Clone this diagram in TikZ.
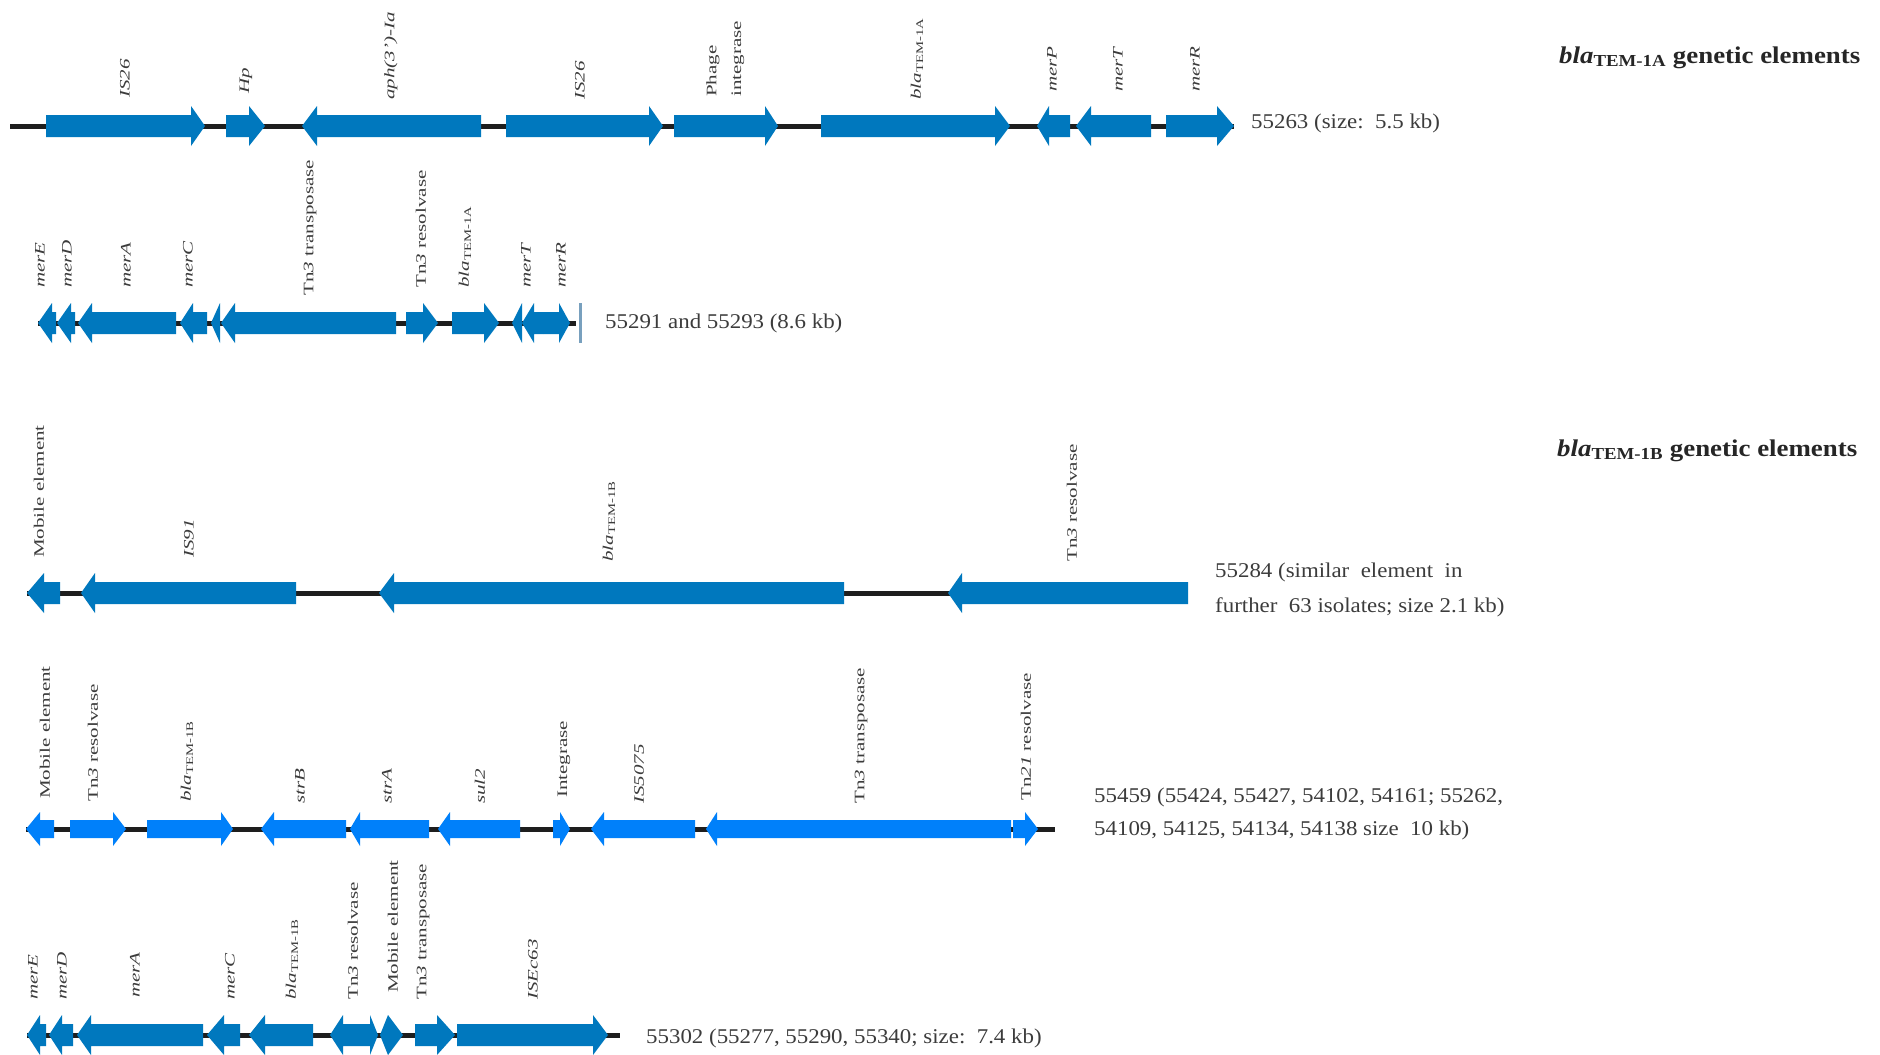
\documentclass[tikz,border=0pt]{standalone}
\usepackage{fontspec}
\setmainfont{Liberation Serif}
\usepackage{graphicx}
\definecolor{genA}{RGB}{0,120,190}
\definecolor{genB}{RGB}{0,128,250}
\definecolor{bb}{RGB}{30,30,30}
\definecolor{lab}{RGB}{60,60,60}
\definecolor{endbar}{RGB}{120,160,190}
\def\bh{11}
\def\hh{20}
\newcommand{\gene}[5][genA]{%
  \fill[#1] (#2,{#5-\bh}) -- (#3,{#5-\bh}) -- (#3,{#5-\hh}) -- (#4,#5) -- (#3,{#5+\hh}) -- (#3,{#5+\bh}) -- (#2,{#5+\bh}) -- cycle;}
\newcommand{\gl}[1]{\scalebox{1.45}[1]{#1}}
\newcommand{\hstr}[1]{\scalebox{1.09}[1]{#1}}
\newcommand{\blasub}[1]{\textit{bla}\textsubscript{#1}}
\tikzset{
  glab/.style={rotate=90, anchor=west, inner sep=0pt, font=\fontsize{14.5}{16}\selectfont, text=lab},
  htxt/.style={anchor=base west, inner sep=0pt, font=\fontsize{21}{24}\selectfont, text=lab},
  hdr/.style={anchor=base west, inner sep=0pt, font=\fontsize{24}{28}\selectfont\bfseries, text=black!85},
  backbone/.style={draw=bb, line width=5pt},
}
\begin{document}
\begin{tikzpicture}[x=1pt,y=-1pt]
\useasboundingbox[fill=white] (0,0) rectangle (1880,1055);

% ---------- headers ----------
\node[hdr] (h1) at (1559,63) {\scalebox{1.12}[1]{\blasub{TEM-1A} genetic elements}};
\node[hdr] (h2) at (1557,456) {\scalebox{1.12}[1]{\blasub{TEM-1B} genetic elements}};

% ---------- row 1 : 55263 ----------
\draw[backbone] (10,126) -- (1234,126);
\gene{46}{191}{205}{126}
\gene{226}{249}{265}{126}
\gene{481}{317}{302}{126}
\gene{506}{649}{663}{126}
\gene{674}{765}{778}{126}
\gene{821}{995}{1010}{126}
\gene{1070}{1049}{1037}{126}
\gene{1151}{1091}{1076}{126}
\gene{1166}{1217}{1234}{126}
\node[glab] (a1) at (125,98) {\gl{\textit{IS26}}};
\node[glab] (a2) at (246,94) {\gl{\textit{Hp}}};
\node[glab] (a3) at (391,100) {\gl{\textit{aph(3')-Ia}}};
\node[glab] (a4) at (580,100) {\gl{\textit{IS26}}};
\node[glab] (a5) at (713,97) {\gl{Phage}};
\node[glab] (a6) at (738,97) {\gl{integrase}};
\node[glab] (a7) at (917,100) {\gl{\blasub{TEM-1A}}};
\node[glab] (a8) at (1052,92) {\gl{\textit{merP}}};
\node[glab] (a9) at (1118,92) {\gl{\textit{merT}}};
\node[glab] (a10) at (1195,92) {\gl{\textit{merR}}};
\node[htxt] (t1) at (1251,128) {\hstr{55263 (size:\ \ 5.5 kb)}};

% ---------- row 2 : 55291 and 55293 ----------
\draw[backbone] (38,323) -- (576,323);
\draw[endbar, line width=3pt] (580,303) -- (580,343);
\gene{56}{52}{38}{323}
\gene{75}{71}{57}{323}
\gene{176}{92}{78}{323}
\gene{207}{193}{180}{323}
\gene{220}{220}{211}{323}
\gene{396}{235}{221}{323}
\gene{406}{423}{438}{323}
\gene{452}{484}{499}{323}
\gene{522}{522}{512}{323}
\gene{543}{534}{522}{323}
\gene{543}{559}{570}{323}
\node[glab] (b1) at (40,288) {\gl{\textit{merE}}};
\node[glab] (b2) at (67,288) {\gl{\textit{merD}}};
\node[glab] (b3) at (126,288) {\gl{\textit{merA}}};
\node[glab] (b4) at (188,288) {\gl{\textit{merC}}};
\node[glab] (b5) at (310,296) {\gl{Tn\textit{3} transposase}};
\node[glab] (b6) at (421,288) {\gl{Tn\textit{3} resolvase}};
\node[glab] (b7) at (465,288) {\gl{\blasub{TEM-1A}}};
\node[glab] (b8) at (526,288) {\gl{\textit{merT}}};
\node[glab] (b9) at (561,288) {\gl{\textit{merR}}};
\node[htxt] (t2) at (605,328) {\hstr{55291 and 55293 (8.6 kb)}};

% ---------- row 3 : 55284 ----------
\draw[backbone] (27,593) -- (1188,593);
\gene{60}{44}{27}{593}
\gene{296}{95}{81}{593}
\gene{844}{394}{379}{593}
\gene{1188}{962}{948}{593}
\node[glab] (c1) at (39,558) {\gl{Mobile element}};
\node[glab] (c2) at (189,558) {\gl{\textit{IS91}}};
\node[glab] (c3) at (609,562) {\gl{\blasub{TEM-1B}}};
\node[glab] (c4) at (1072,562) {\gl{Tn\textit{3} resolvase}};
\node[htxt] (t3a) at (1215,577) {\hstr{55284 (similar\ \ element\ \ in}};
\node[htxt] (t3b) at (1215,612) {\hstr{further\ \ 63 isolates; size 2.1 kb)}};

% ---------- row 4 : 55459 ----------
\draw[backbone] (26,829) -- (1055,829);
\begin{scope}
\def\bh{9}\def\hh{17}
\gene[genB]{54}{40}{26}{829}
\gene[genB]{70}{113}{126}{829}
\gene[genB]{147}{221}{233}{829}
\gene[genB]{346}{274}{261}{829}
\gene[genB]{429}{360}{350}{829}
\gene[genB]{520}{450}{438}{829}
\gene[genB]{553}{560}{570}{829}
\gene[genB]{695}{604}{591}{829}
\gene[genB]{1011}{717}{706}{829}
\gene[genB]{1013}{1025}{1038}{829}
\end{scope}
\node[glab] (d1) at (45,799) {\gl{Mobile element}};
\node[glab] (d2) at (93,802) {\gl{Tn\textit{3} resolvase}};
\node[glab] (d3) at (187,802) {\gl{\blasub{TEM-1B}}};
\node[glab] (d4) at (300,804) {\gl{\textit{strB}}};
\node[glab] (d5) at (387,804) {\gl{\textit{strA}}};
\node[glab] (d6) at (480,804) {\gl{\textit{sul2}}};
\node[glab] (d7) at (564,798) {\gl{Integrase}};
\node[glab] (d8) at (639,804) {\gl{\textit{IS5075}}};
\node[glab] (d9) at (861,804) {\gl{Tn\textit{3} transposase}};
\node[glab] (d10) at (1026,801) {\gl{Tn\textit{21} resolvase}};
\node[htxt] (t4a) at (1094,802) {\hstr{55459 (55424, 55427, 54102, 54161; 55262,}};
\node[htxt] (t4b) at (1094,835) {\hstr{54109, 54125, 54134, 54138 size\ \ 10 kb)}};

% ---------- row 5 : 55302 ----------
\draw[backbone] (27,1035) -- (620,1035);
\gene{46}{40}{27}{1035}
\gene{73}{62}{49}{1035}
\gene{203}{91}{77}{1035}
\gene{240}{224}{207}{1035}
\gene{313}{265}{249}{1035}
\gene{370}{343}{330}{1035}
\gene{370}{370}{378}{1035}
\gene{388}{388}{380}{1035}
\gene{388}{388}{403}{1035}
\gene{415}{437}{455}{1035}
\gene{457}{593}{608}{1035}
\node[glab] (e1) at (33,1000) {\gl{\textit{merE}}};
\node[glab] (e2) at (62,1000) {\gl{\textit{merD}}};
\node[glab] (e3) at (135,998) {\gl{\textit{merA}}};
\node[glab] (e4) at (230,1000) {\gl{\textit{merC}}};
\node[glab] (e5) at (292,1000) {\gl{\blasub{TEM-1B}}};
\node[glab] (e6) at (353,1000) {\gl{Tn\textit{3} resolvase}};
\node[glab] (e7) at (393,993) {\gl{Mobile element}};
\node[glab] (e8) at (423,1000) {\gl{Tn\textit{3} transposase}};
\node[glab] (e9) at (533,1000) {\gl{\textit{ISEc63}}};
\node[htxt] (t5) at (646,1043) {\hstr{55302 (55277, 55290, 55340; size:\ \ 7.4 kb)}};
\end{tikzpicture}
\end{document}
